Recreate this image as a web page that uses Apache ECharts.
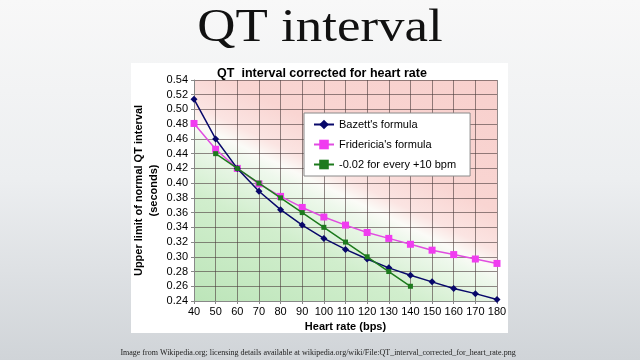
<!DOCTYPE html>
<html><head><meta charset="utf-8">
<script src="https://cdn.jsdelivr.net/npm/echarts@6/dist/echarts.min.js"></script>
<style>html,body{margin:0;padding:0;}#c{width:640px;height:360px;}</style>
</head><body><div id="c"></div>
<script>
const heartRate = [40, 50, 60, 70, 80, 90, 100, 110, 120, 130, 140, 150, 160, 170, 180];
const bazett = [0.514, 0.460, 0.420, 0.389, 0.364, 0.343, 0.325, 0.310, 0.297, 0.285, 0.275, 0.266, 0.257, 0.250, 0.242];
const fridericia = [0.481, 0.446, 0.420, 0.399, 0.382, 0.367, 0.354, 0.343, 0.333, 0.325, 0.317, 0.309, 0.303, 0.297, 0.291];
const linearRule = [null, 0.44, 0.42, 0.40, 0.38, 0.36, 0.34, 0.32, 0.30, 0.28, 0.26, null, null, null, null];
const seriesNames = ["Bazett's formula", "Fridericia's formula", "-0.02 for every +10 bpm"];

function pairs(vals) {
  const out = [];
  heartRate.forEach((h, i) => { if (vals[i] != null) out.push([h, vals[i]]); });
  return out;
}

const chart = echarts.init(document.getElementById('c'), null, {renderer: 'canvas'});
const gridBg = new echarts.graphic.LinearGradient(275, 342, 419, 45, [
  {offset: 0, color: '#bce5b9'},
  {offset: 0.30, color: '#d1eecd'},
  {offset: 0.45, color: '#eef8ec'},
  {offset: 0.49, color: '#fbfbf7'},
  {offset: 0.54, color: '#fbe4e2'},
  {offset: 0.65, color: '#f9d5d2'},
  {offset: 1, color: '#f8d0cd'}
], true);

chart.setOption({
  animation: false,
  backgroundColor: new echarts.graphic.LinearGradient(0, 0, 0, 1, [
    {offset: 0, color: '#f8f8f8'}, {offset: 0.5, color: '#eceef0'}, {offset: 1, color: '#d0d4d8'}
  ]),
  graphic: [
    {type: 'rect', shape: {x: 131, y: 63, width: 377, height: 270}, style: {fill: '#ffffff'}, z: -10},
    {type: 'text', x: 320, y: 29, scaleX: 1.15, style: {text: 'QT interval', font: '46px "Liberation Serif", serif', fill: '#111', align: 'center', verticalAlign: 'middle'}},
    {type: 'text', x: 318, y: 353, style: {text: 'Image from Wikipedia.org; licensing details available at wikipedia.org/wiki/File:QT_interval_corrected_for_heart_rate.png', font: '8px "Liberation Serif", serif', fill: '#222', align: 'center', verticalAlign: 'middle'}}
  ],
  title: {
    text: 'QT  interval corrected for heart rate',
    left: 317, top: 62, textAlign: 'center',
    textStyle: {fontFamily: '"Liberation Sans", Arial, sans-serif', fontSize: 12.5, fontWeight: 'bold', color: '#000'}
  },
  grid: {left: 194, right: 143, top: 80, bottom: 59, show: true, backgroundColor: gridBg, borderWidth: 0},
  legend: {
    orient: 'vertical', left: 304, top: 113, width: 166,
    backgroundColor: '#ffffff', borderColor: '#8a8a8a', borderWidth: 1,
    padding: [6, 14, 6, 9], itemGap: 9, itemWidth: 20, itemHeight: 12,
    textStyle: {fontFamily: '"Liberation Sans", Arial, sans-serif', fontSize: 11, color: '#000'},
    data: seriesNames
  },
  xAxis: {
    type: 'value', min: 40, max: 180, interval: 10,
    name: 'Heart rate (bps)', nameLocation: 'middle', nameGap: 17,
    nameTextStyle: {fontFamily: '"Liberation Sans", Arial, sans-serif', fontSize: 11, fontWeight: 'bold', color: '#000'},
    axisLine: {show: true, lineStyle: {color: '#888', width: 1}},
    axisTick: {show: true, length: 3, lineStyle: {color: '#888'}},
    axisLabel: {fontFamily: '"Liberation Sans", Arial, sans-serif', fontSize: 11, color: '#000', margin: 5},
    splitLine: {show: true, lineStyle: {color: 'rgba(75,60,60,0.6)', width: 1}}
  },
  yAxis: {
    type: 'value', min: 0.24, max: 0.54, interval: 0.02,
    name: 'Upper limit of normal QT interval\n(seconds)', nameLocation: 'middle', nameGap: 33, nameRotate: 90,
    nameTextStyle: {fontFamily: '"Liberation Sans", Arial, sans-serif', fontSize: 11, fontWeight: 'bold', color: '#000', lineHeight: 15},
    axisLine: {show: true, lineStyle: {color: '#888', width: 1}},
    axisTick: {show: true, length: 3, lineStyle: {color: '#888'}},
    axisLabel: {fontFamily: '"Liberation Sans", Arial, sans-serif', fontSize: 11, color: '#000', margin: 6,
      formatter: v => v.toFixed(2)},
    splitLine: {show: true, lineStyle: {color: 'rgba(75,60,60,0.6)', width: 1}}
  },
  series: [
    {name: seriesNames[0], type: 'line', data: pairs(bazett), symbol: 'diamond', symbolSize: 7,
      lineStyle: {color: '#08086a', width: 1.5}, itemStyle: {color: '#08086a'}, z: 4},
    {name: seriesNames[1], type: 'line', data: pairs(fridericia), symbol: 'rect', symbolSize: 7,
      lineStyle: {color: '#e04de0', width: 1.5}, itemStyle: {color: '#f03cf0'}, z: 3},
    {name: seriesNames[2], type: 'line', data: pairs(linearRule), symbol: 'rect', symbolSize: 5,
      lineStyle: {color: '#1d7a1d', width: 1.5}, itemStyle: {color: '#1d7a1d'}, z: 5}
  ]
});
</script></body></html>
